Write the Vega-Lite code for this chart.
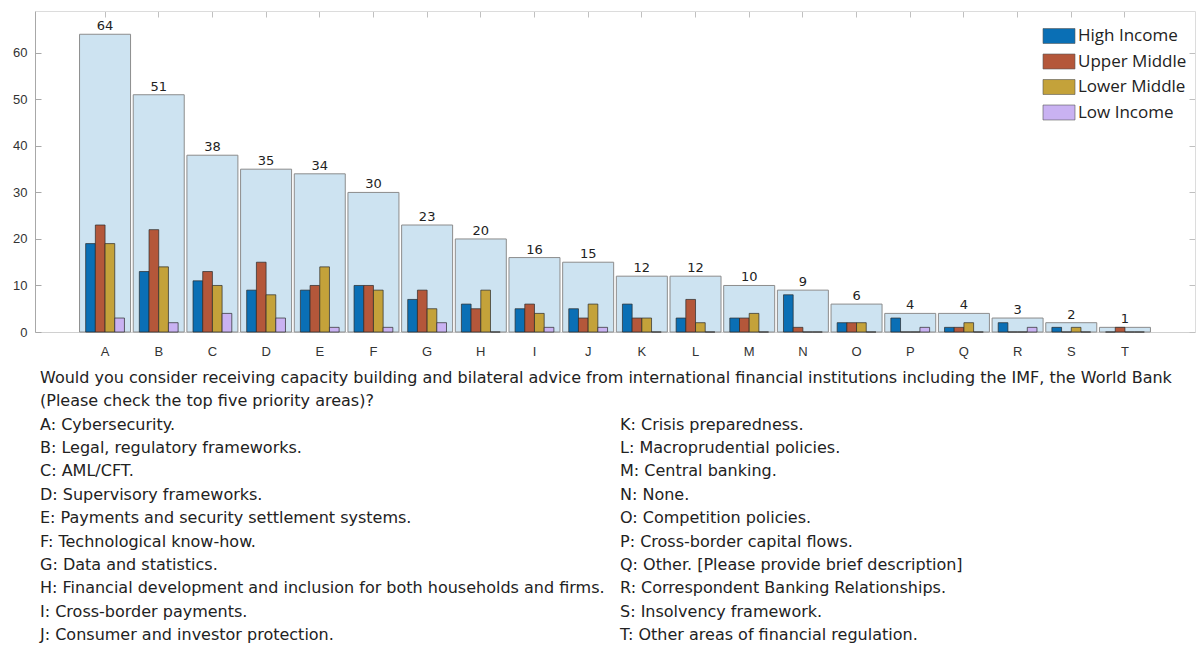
{
  "$schema": "https://vega.github.io/schema/vega-lite/v6.json",
  "background": "white",
  "padding": {"left": 12, "top": 10, "right": 4, "bottom": 0},
  "spacing": 8,
  "config": {
    "view": {"stroke": null},
    "axis": {"labelFont": "Liberation Sans", "labelColor": "#333", "domainColor": "#a8a8a8", "tickColor": "#a8a8a8", "grid": false},
    "legend": {"symbolOpacity": 1}
  },
  "datasets": {
    "totals": [
      {"cat": "A", "total": 64}, {"cat": "B", "total": 51}, {"cat": "C", "total": 38}, {"cat": "D", "total": 35},
      {"cat": "E", "total": 34}, {"cat": "F", "total": 30}, {"cat": "G", "total": 23}, {"cat": "H", "total": 20},
      {"cat": "I", "total": 16}, {"cat": "J", "total": 15}, {"cat": "K", "total": 12}, {"cat": "L", "total": 12},
      {"cat": "M", "total": 10}, {"cat": "N", "total": 9}, {"cat": "O", "total": 6}, {"cat": "P", "total": 4},
      {"cat": "Q", "total": 4}, {"cat": "R", "total": 3}, {"cat": "S", "total": 2}, {"cat": "T", "total": 1}
    ],
    "groups": [
      {"cat": "A", "group": "High Income", "value": 19}, {"cat": "A", "group": "Upper Middle", "value": 23}, {"cat": "A", "group": "Lower Middle", "value": 19}, {"cat": "A", "group": "Low Income", "value": 3},
      {"cat": "B", "group": "High Income", "value": 13}, {"cat": "B", "group": "Upper Middle", "value": 22}, {"cat": "B", "group": "Lower Middle", "value": 14}, {"cat": "B", "group": "Low Income", "value": 2},
      {"cat": "C", "group": "High Income", "value": 11}, {"cat": "C", "group": "Upper Middle", "value": 13}, {"cat": "C", "group": "Lower Middle", "value": 10}, {"cat": "C", "group": "Low Income", "value": 4},
      {"cat": "D", "group": "High Income", "value": 9}, {"cat": "D", "group": "Upper Middle", "value": 15}, {"cat": "D", "group": "Lower Middle", "value": 8}, {"cat": "D", "group": "Low Income", "value": 3},
      {"cat": "E", "group": "High Income", "value": 9}, {"cat": "E", "group": "Upper Middle", "value": 10}, {"cat": "E", "group": "Lower Middle", "value": 14}, {"cat": "E", "group": "Low Income", "value": 1},
      {"cat": "F", "group": "High Income", "value": 10}, {"cat": "F", "group": "Upper Middle", "value": 10}, {"cat": "F", "group": "Lower Middle", "value": 9}, {"cat": "F", "group": "Low Income", "value": 1},
      {"cat": "G", "group": "High Income", "value": 7}, {"cat": "G", "group": "Upper Middle", "value": 9}, {"cat": "G", "group": "Lower Middle", "value": 5}, {"cat": "G", "group": "Low Income", "value": 2},
      {"cat": "H", "group": "High Income", "value": 6}, {"cat": "H", "group": "Upper Middle", "value": 5}, {"cat": "H", "group": "Lower Middle", "value": 9}, {"cat": "H", "group": "Low Income", "value": 0},
      {"cat": "I", "group": "High Income", "value": 5}, {"cat": "I", "group": "Upper Middle", "value": 6}, {"cat": "I", "group": "Lower Middle", "value": 4}, {"cat": "I", "group": "Low Income", "value": 1},
      {"cat": "J", "group": "High Income", "value": 5}, {"cat": "J", "group": "Upper Middle", "value": 3}, {"cat": "J", "group": "Lower Middle", "value": 6}, {"cat": "J", "group": "Low Income", "value": 1},
      {"cat": "K", "group": "High Income", "value": 6}, {"cat": "K", "group": "Upper Middle", "value": 3}, {"cat": "K", "group": "Lower Middle", "value": 3}, {"cat": "K", "group": "Low Income", "value": 0},
      {"cat": "L", "group": "High Income", "value": 3}, {"cat": "L", "group": "Upper Middle", "value": 7}, {"cat": "L", "group": "Lower Middle", "value": 2}, {"cat": "L", "group": "Low Income", "value": 0},
      {"cat": "M", "group": "High Income", "value": 3}, {"cat": "M", "group": "Upper Middle", "value": 3}, {"cat": "M", "group": "Lower Middle", "value": 4}, {"cat": "M", "group": "Low Income", "value": 0},
      {"cat": "N", "group": "High Income", "value": 8}, {"cat": "N", "group": "Upper Middle", "value": 1}, {"cat": "N", "group": "Lower Middle", "value": 0}, {"cat": "N", "group": "Low Income", "value": 0},
      {"cat": "O", "group": "High Income", "value": 2}, {"cat": "O", "group": "Upper Middle", "value": 2}, {"cat": "O", "group": "Lower Middle", "value": 2}, {"cat": "O", "group": "Low Income", "value": 0},
      {"cat": "P", "group": "High Income", "value": 3}, {"cat": "P", "group": "Upper Middle", "value": 0}, {"cat": "P", "group": "Lower Middle", "value": 0}, {"cat": "P", "group": "Low Income", "value": 1},
      {"cat": "Q", "group": "High Income", "value": 1}, {"cat": "Q", "group": "Upper Middle", "value": 1}, {"cat": "Q", "group": "Lower Middle", "value": 2}, {"cat": "Q", "group": "Low Income", "value": 0},
      {"cat": "R", "group": "High Income", "value": 2}, {"cat": "R", "group": "Upper Middle", "value": 0}, {"cat": "R", "group": "Lower Middle", "value": 0}, {"cat": "R", "group": "Low Income", "value": 1},
      {"cat": "S", "group": "High Income", "value": 1}, {"cat": "S", "group": "Upper Middle", "value": 0}, {"cat": "S", "group": "Lower Middle", "value": 1}, {"cat": "S", "group": "Low Income", "value": 0},
      {"cat": "T", "group": "High Income", "value": 0}, {"cat": "T", "group": "Upper Middle", "value": 1}, {"cat": "T", "group": "Lower Middle", "value": 0}, {"cat": "T", "group": "Low Income", "value": 0}
    ],
    "notes": [
      {"col": "left", "row": 0, "label": "Would you consider receiving capacity building and bilateral advice from international financial institutions including the IMF, the World Bank"},
      {"col": "left", "row": 1, "label": "(Please check the top five priority areas)?"},
      {"col": "left", "row": 2, "label": "A: Cybersecurity."},
      {"col": "left", "row": 3, "label": "B: Legal, regulatory frameworks."},
      {"col": "left", "row": 4, "label": "C: AML/CFT."},
      {"col": "left", "row": 5, "label": "D: Supervisory frameworks."},
      {"col": "left", "row": 6, "label": "E: Payments and security settlement systems."},
      {"col": "left", "row": 7, "label": "F: Technological know-how."},
      {"col": "left", "row": 8, "label": "G: Data and statistics."},
      {"col": "left", "row": 9, "label": "H: Financial development and inclusion for both households and firms."},
      {"col": "left", "row": 10, "label": "I: Cross-border payments."},
      {"col": "left", "row": 11, "label": "J: Consumer and investor protection."},
      {"col": "right", "row": 2, "label": "K: Crisis preparedness."},
      {"col": "right", "row": 3, "label": "L: Macroprudential policies."},
      {"col": "right", "row": 4, "label": "M: Central banking."},
      {"col": "right", "row": 5, "label": "N: None."},
      {"col": "right", "row": 6, "label": "O: Competition policies."},
      {"col": "right", "row": 7, "label": "P: Cross-border capital flows."},
      {"col": "right", "row": 8, "label": "Q: Other. [Please provide brief description]"},
      {"col": "right", "row": 9, "label": "R: Correspondent Banking Relationships."},
      {"col": "right", "row": 10, "label": "S: Insolvency framework."},
      {"col": "right", "row": 11, "label": "T: Other areas of financial regulation."}
    ]
  },
  "vconcat": [
    {
      "width": 1160,
      "height": 321,
      "layer": [
        {
          "data": {"name": "totals"},
          "mark": {"type": "bar", "fill": "#cde3f1", "stroke": "#8c8c8c", "strokeWidth": 1},
          "encoding": {
            "x": {"field": "cat", "type": "nominal", "sort": null,
                  "scale": {"paddingInner": 0.05, "paddingOuter": 0.83},
                  "axis": {"title": null, "labelAngle": 0, "labelFontSize": 13, "ticks": false, "labelPadding": 13, "domainColor": "#d0d0d0"}},
            "y": {"field": "total", "type": "quantitative",
                  "scale": {"domain": [0, 69], "nice": false},
                  "axis": {"title": null, "values": [0, 10, 20, 30, 40, 50, 60], "labelFontSize": 13, "tickSize": -6, "labelPadding": 14}}
          }
        },
        {
          "data": {"name": "totals"},
          "mark": {"type": "text", "dy": -8, "fontSize": 13, "font": "DejaVu Sans", "color": "#222"},
          "encoding": {
            "x": {"field": "cat", "type": "nominal", "sort": null, "axis": null},
            "y": {"field": "total", "type": "quantitative", "axis": null},
            "text": {"field": "total", "type": "quantitative"}
          }
        },
        {
          "data": {"name": "groups"},
          "mark": {"type": "bar", "stroke": "#2a2a2a", "strokeWidth": 0.7},
          "encoding": {
            "x": {"field": "cat", "type": "nominal", "sort": null,
                  "axis": {"orient": "top", "title": null, "labels": false, "tickSize": -6, "domainColor": "#dcdcdc", "tickColor": "#c0c0c0"}},
            "xOffset": {"field": "group", "type": "nominal",
                        "sort": ["High Income", "Upper Middle", "Lower Middle", "Low Income"],
                        "scale": {"paddingInner": 0, "paddingOuter": 0.63}},
            "y": {"field": "value", "type": "quantitative",
                  "axis": {"orient": "right", "title": null, "labels": false, "values": [0, 10, 20, 30, 40, 50, 60], "tickSize": -6, "domainColor": "#dcdcdc", "tickColor": "#c0c0c0"}},
            "color": {"field": "group", "type": "nominal",
                      "sort": ["High Income", "Upper Middle", "Lower Middle", "Low Income"],
                      "scale": {"domain": ["High Income", "Upper Middle", "Lower Middle", "Low Income"],
                                "range": ["#0a6fb5", "#b4573a", "#c4a23a", "#c9b2f2"]},
                      "legend": {"title": null, "orient": "none", "legendX": 1012, "legendY": 13,
                                 "symbolType": "M-1.39,-0.65H1.39V0.65H-1.39Z", "symbolSize": 529,
                                 "symbolStrokeColor": "#555", "symbolStrokeWidth": 0.6,
                                 "labelFont": "Open Sans", "labelFontSize": 17, "labelColor": "#222",
                                 "labelOffset": 7, "rowPadding": 4.5}}
          }
        }
      ],
      "resolve": {"axis": {"x": "independent", "y": "independent"}}
    },
    {
      "width": 1160,
      "height": 281,
      "data": {"name": "notes"},
      "mark": {"type": "text", "align": "left", "baseline": "middle", "dx": 5, "font": "DejaVu Sans", "fontSize": 16, "color": "#222"},
      "encoding": {
        "x": {"field": "col", "type": "nominal", "bandPosition": 0, "scale": {"type": "band", "paddingInner": 0, "paddingOuter": 0}, "axis": null},
        "y": {"field": "row", "type": "ordinal", "bandPosition": 0.5, "scale": {"type": "band", "paddingInner": 0, "paddingOuter": 0}, "axis": null},
        "text": {"field": "label", "type": "nominal"}
      }
    }
  ]
}
